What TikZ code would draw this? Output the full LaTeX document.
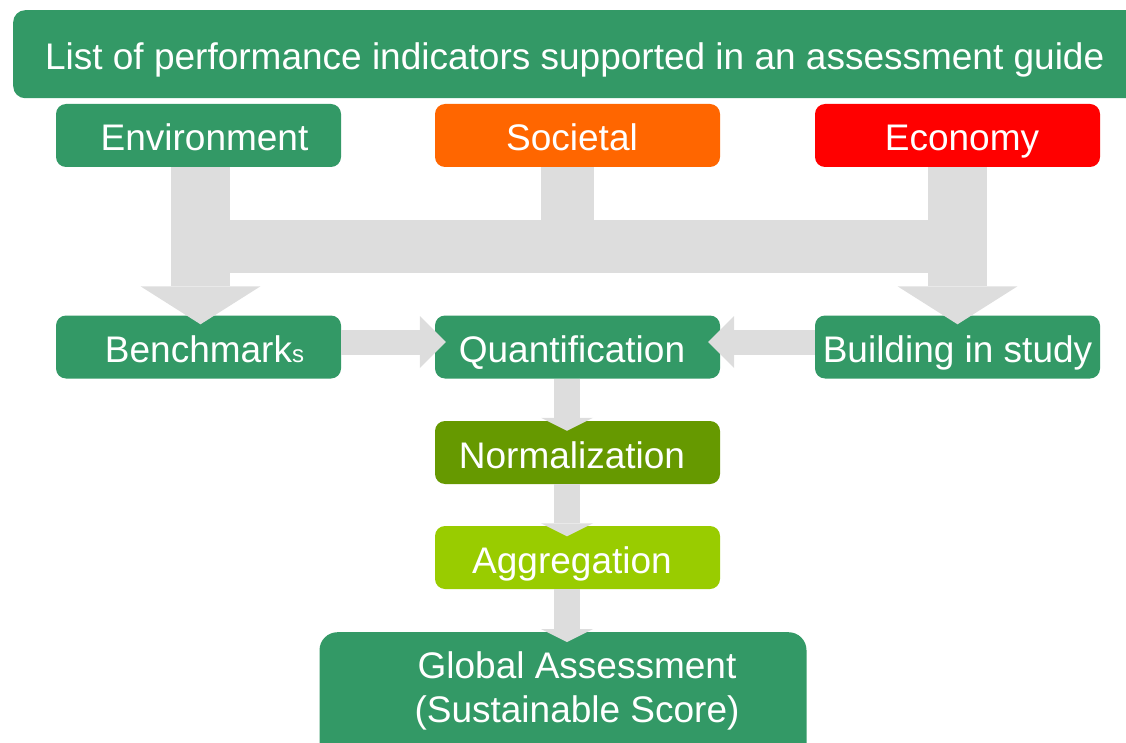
\documentclass[tikz,border=0pt]{standalone}
\usepackage{fontspec}
\setmainfont{Liberation Sans}
\usetikzlibrary{arrows.meta,calc}
\definecolor{gr}{RGB}{51,153,102}
\definecolor{ag}{RGB}{221,221,221}
\definecolor{orng}{RGB}{255,102,0}
\definecolor{rd}{RGB}{255,0,0}
\definecolor{olv}{RGB}{102,153,0}
\definecolor{lime}{RGB}{153,204,0}
\begin{document}
\begin{tikzpicture}[x=1pt,y=-1pt,
  box/.style={rounded corners=10pt, fill=#1, text=white, minimum width=285pt,
    minimum height=63pt, inner sep=0pt, font=\fontsize{37}{40}\selectfont,
    text height=31pt, text depth=0pt},
  box/.default=gr,
  bigarr/.style={draw=ag, line width=59pt,
    -{Triangle[width=120pt,length=38pt,line width=0pt,fill=ag]}},
  midarr/.style={draw=ag, line width=25pt,
    -{Triangle[width=52pt,length=26pt,line width=0pt,fill=ag]}},
  smallarr/.style={draw=ag, line width=26pt,
    -{Triangle[width=52pt,length=13pt,line width=0pt,fill=ag]}}
]
\useasboundingbox (0,0) rectangle (1126,743);
% title
\node[box, minimum width=1130pt, minimum height=88pt, rounded corners=12pt, anchor=north west,
  text height=30pt] (title) at (13,10)
  {List of performance indicators supported in an assessment guide\hspace*{7pt}};
% top row
\node[box] (env) at (198.5,135.5) {\hspace*{12pt}Environment};
\node[box=orng] (soc) at (577.5,135.5) {Societal\hspace*{11pt}};
\node[box=rd] (eco) at (957.5,135.5) {\hspace*{9pt}Economy};
% middle row
\node[box] (bench) at (198.5,347) {\hspace*{12pt}Benchmark{\fontsize{24}{24}\selectfont s}};
\node[box] (quant) at (577.5,347) {Quantification\hspace*{11pt}};
\node[box] (build) at (957.5,347) {Building in study};
% chain
\node[box=olv] (norm) at (577.5,452.5) {Normalization\hspace*{11pt}};
\node[box=lime] (aggr) at (577.5,557.5) {Aggregation\hspace*{11pt}};
\node[rounded corners=18pt, fill=gr, minimum width=487pt, minimum height=130pt, inner sep=0pt, anchor=north] (global) at (563,632) {};
\node[text=white, align=center, font=\fontsize{37}{44}\selectfont, anchor=base] (globaltxt) at (577,722)
  {Global Assessment\\(Sustainable Score)};
% gray connector shapes
\fill[ag] (230,220) rectangle (928,273);
\fill[ag] ($(soc.south)+(-36.5,0)$) rectangle ($(soc.south)+(16.5,106)$);
\draw[bigarr, shorten >=-9pt] ($(env.south)+(2,0)$) -- ($(bench.north)+(2,0)$);
\draw[bigarr, shorten >=-9pt] (eco.south) -- (build.north);
\draw[midarr, shorten >=-11pt] ($(bench.east)+(0,-5)$) -- ($(quant.west)+(0,-5)$);
\draw[midarr, shorten >=-12pt] ($(build.west)+(0,-5)$) -- ($(quant.east)+(0,-5)$);
\draw[smallarr, shorten >=-10pt] ($(quant.south)+(-10.5,0)$) -- ($(norm.north)+(-10.5,0)$);
\draw[smallarr, shorten >=-10.5pt] ($(norm.south)+(-10.5,0)$) -- ($(aggr.north)+(-10.5,0)$);
\draw[smallarr, shorten >=-10pt] ($(aggr.south)+(-10.5,0)$) -- ($(global.north)+(4,0)$);
\end{tikzpicture}
\end{document}
